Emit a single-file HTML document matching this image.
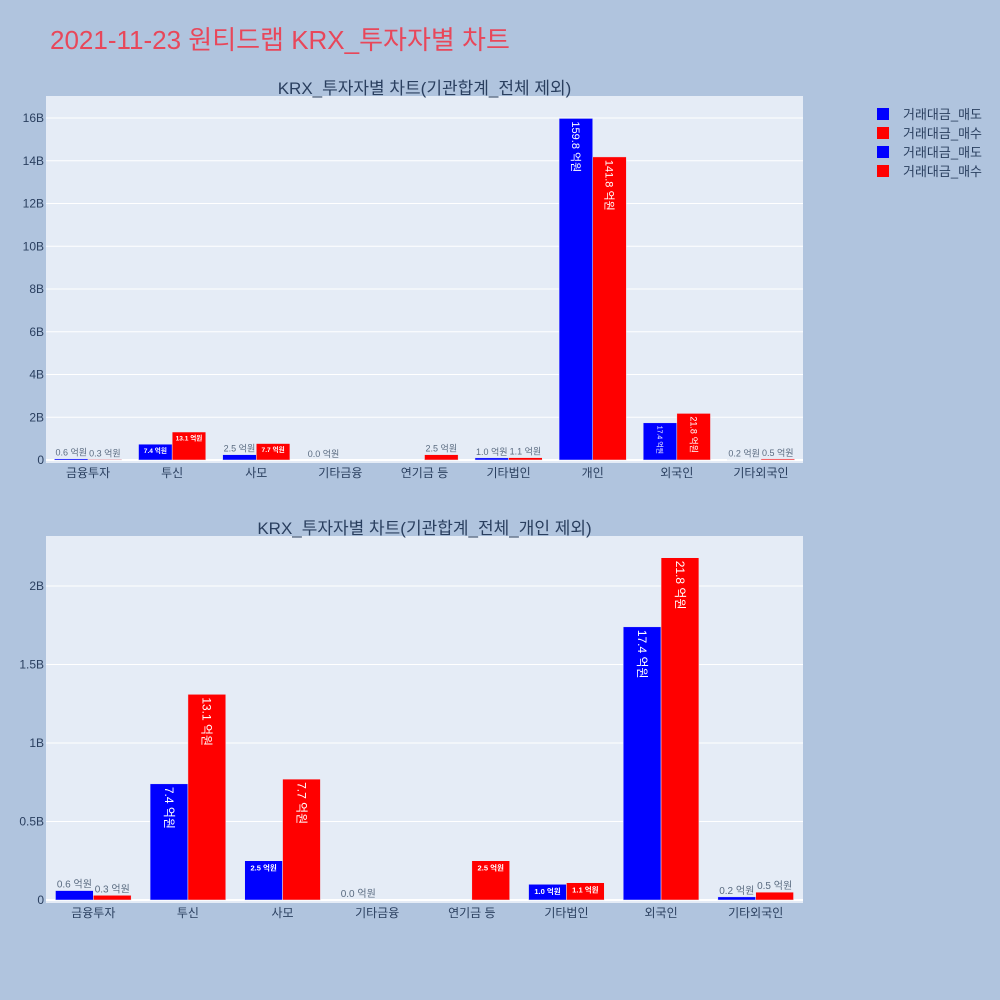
<!DOCTYPE html>
<html><head><meta charset="utf-8">
<style>
body{margin:0;background:#b0c4de;}
svg{display:block;font-family:"Liberation Sans","Noto Sans CJK KR",sans-serif;}
</style></head>
<body>
<svg id="chart" width="1000" height="1000" viewBox="0 0 1000 1000">
<rect x="0" y="0" width="1000" height="1000" fill="#b0c4de"/>
<text x="50" y="49" font-size="26" fill="#e8475a">2021-11-23 원티드랩 KRX_투자자별 차트</text>
<g font-size="13" fill="#2a3f5f">
<g><rect x="877" y="108" width="12" height="12" fill="#0000ff"/><text x="903" y="119">거래대금_매도</text></g>
<g><rect x="877" y="127" width="12" height="12" fill="#ff0000"/><text x="903" y="138">거래대금_매수</text></g>
<g><rect x="877" y="146" width="12" height="12" fill="#0000ff"/><text x="903" y="157">거래대금_매도</text></g>
<g><rect x="877" y="165" width="12" height="12" fill="#ff0000"/><text x="903" y="176">거래대금_매수</text></g>
</g>
</svg>
<script>
const topCategories=["금융투자","투신","사모","기타금융","연기금 등","기타법인","개인","외국인","기타외국인"];
const topSell=[0.6,7.4,2.5,0.0,null,1.0,159.8,17.4,0.2];
const topBuy=[0.3,13.1,7.7,null,2.5,1.1,141.8,21.8,0.5];
const topTicks=[0,2,4,6,8,10,12,14,16];
const topTickLabels=["0","2B","4B","6B","8B","10B","12B","14B","16B"];
const botCategories=["금융투자","투신","사모","기타금융","연기금 등","기타법인","외국인","기타외국인"];
const botSell=[0.6,7.4,2.5,0.0,null,1.0,17.4,0.2];
const botBuy=[0.3,13.1,7.7,null,2.5,1.1,21.8,0.5];
const botTicks=[0,0.5,1,1.5,2];
const botTickLabels=["0","0.5B","1B","1.5B","2B"];

const NS="http://www.w3.org/2000/svg";
const svg=document.getElementById('chart');
function mk(tag,attrs,parent){const e=document.createElementNS(NS,tag);for(const k in attrs)e.setAttribute(k,attrs[k]);(parent||svg).appendChild(e);return e;}

function drawPanel(cfg){
  const g=mk('g',{});
  
  
  const bg=mk('rect',{x:cfg.x0,y:cfg.top,width:cfg.x1-cfg.x0,height:cfg.bottom-cfg.top,fill:'#e5ecf6'},g);
  
  
  const t=mk('text',{x:(cfg.x0+cfg.x1)/2,y:cfg.top-2,'font-size':17,fill:'#2a3f5f','text-anchor':'middle'},g);
  t.textContent=cfg.title;
  
  
  const yS=v=>cfg.y0px+(v/cfg.ymax)*(cfg.ymaxPx-cfg.y0px); // v in B
  cfg.ticks.forEach((tv,i)=>{
    const y=yS(tv);
    const l=mk('line',{x1:cfg.x0,x2:cfg.x1,y1:y,y2:y,stroke:'#fff','stroke-width':tv===0?2:1},g);
    
    
    const tl=mk('text',{x:cfg.x0-2,y:y+4,'font-size':12,fill:'#2a3f5f','text-anchor':'end'},g);
    tl.textContent=cfg.tickLabels[i];
    
    
  });
  const n=cfg.cats.length, step=(cfg.x1-cfg.x0)/n, bw=step*0.4;
  cfg.cats.forEach((c,i)=>{
    const cx=cfg.x0+step*(i+0.5);
    const xl=mk('text',{x:cx,y:cfg.bottom+14,'font-size':12,fill:'#2a3f5f','text-anchor':'middle'},g);
    xl.textContent=c;
    
    
    [[cfg.sell,'#0000ff',-1,'bar-sell'],[cfg.buy,'#ff0000',0,'bar-buy']].forEach(([arr,col,off,nm])=>{
      const v=arr[i]; if(v===null) return;
      const bx=cx+off*bw, yTop=yS(v/10), h=cfg.y0px-yTop;
      const r=mk('rect',{x:bx,y:yTop,width:bw,height:Math.max(h,0),fill:col,stroke:'#e5ecf6','stroke-width':0.5},g);
      
      
      const label=v.toFixed(1)+' 억원';
      const f=cfg.font, em=4.5;
      const sH=Math.min(1,(bw-4)/(f*em),(h-4)/(f*1.2));
      const sR=Math.min(1,(h-6)/(f*em),(bw-4)/(f*1.2));
      const s=Math.max(sH,sR);
      let tx;
      if(s*f<6){
        tx=mk('text',{x:bx+bw/2,y:yTop-3,'font-size':cfg.outFont,fill:'#5a6b80','text-anchor':'middle'},g);
      } else if(sR>sH){
        const fs=sR*f, px=bx+bw/2-fs*0.35, py=yTop+3;
        tx=mk('text',{x:px,y:py,'font-size':fs,fill:'#fff','text-anchor':'start',transform:`rotate(90 ${px} ${py})`},g);
      } else {
        const fs=sH*f;
        tx=mk('text',{x:bx+bw/2,y:yTop+2+fs,'font-size':fs,fill:'#fff','font-weight':'bold','text-anchor':'middle'},g);
      }
      tx.textContent=label;
      
      
    });
  });
}
drawPanel({name:'top-chart',title:'KRX_투자자별 차트(기관합계_전체 제외)',x0:46,x1:803,top:96,bottom:463,y0px:460,ymaxPx:118,ymax:16,
  ticks:topTicks,tickLabels:topTickLabels,cats:topCategories,sell:topSell,buy:topBuy,font:11,outFont:9});
drawPanel({name:'bottom-chart',title:'KRX_투자자별 차트(기관합계_전체_개인 제외)',x0:46,x1:803,top:536,bottom:903,y0px:900,ymaxPx:586,ymax:2,
  ticks:botTicks,tickLabels:botTickLabels,cats:botCategories,sell:botSell,buy:botBuy,font:12,outFont:10});
</script>
</body></html>
